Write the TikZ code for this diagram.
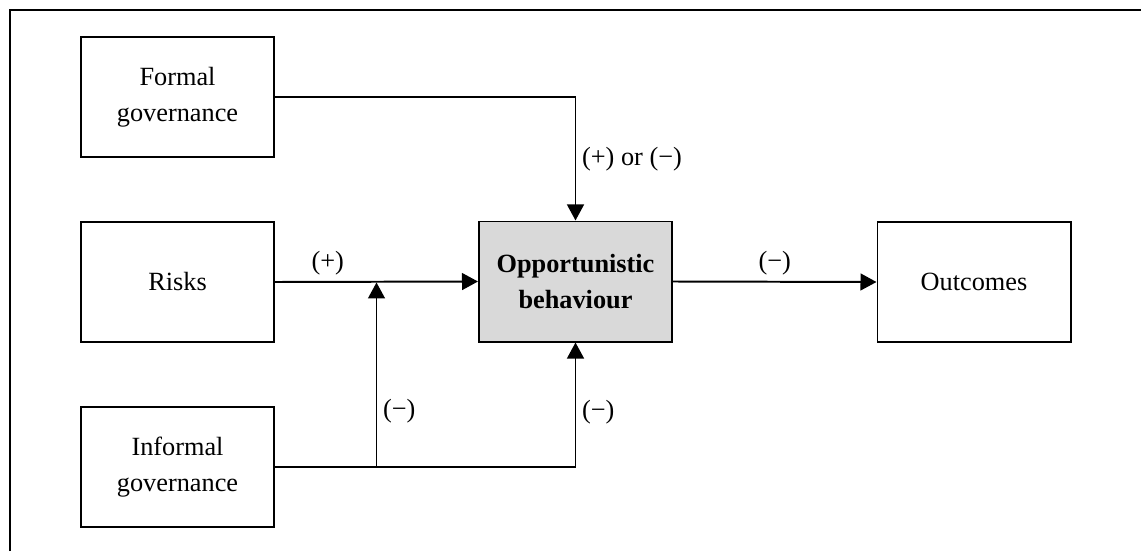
\documentclass[tikz,border=0pt]{standalone}
\usepackage{fontspec}
\setmainfont{Liberation Serif}
\usepackage{tikz}
\usetikzlibrary{
    positioning,
    arrows.meta,
    calc
}
\definecolor{fillGray}{RGB}{217, 217, 217}

\begin{document}
\begin{tikzpicture}[x=0.025cm, y=-0.025cm,
        box/.style={draw, line width=1.4pt, minimum width=4.825cm, minimum height=3cm,
            align=center, inner sep=2pt, font=\fontsize{18.7}{25.6}\selectfont},
        conn/.style={line width=1.4pt, -{Triangle[length=0.4cm, width=0.42cm]}},
        lbl/.style={font=\fontsize{18.7}{22}\selectfont, inner sep=4pt}]
        \useasboundingbox (0,0) rectangle (1141,551);
        % frame
        \draw[line width=2.1pt] (10,551) -- (10,10) -- (1141,10);

        % boxes
        \node[box] (formal) at (177.5,97) {Formal\\governance};
        \node[box] (risks) at (177.5,282) {Risks};
        \node[box] (informal) at (177.5,467) {Informal\\governance};
        \node[box, fill=fillGray, font=\fontsize{18.7}{25.6}\selectfont\bfseries] (opp) at (575.5,281.5) {Opportunistic\\behaviour};
        \node[box] (out) at (974,282) {Outcomes};

        % junctions
        \coordinate (jr) at ($(risks.east)!0.5!(opp.west)$);
        \coordinate (jn) at (jr |- informal.east);

        % connectors
        \draw[conn] (formal.east) -| (opp.north) node[lbl, pos=0.75, right]{(+) or (−)};
        \draw[conn] (risks.east) -- (opp.west) node[lbl, pos=0.26, above]{(+)};
        \draw[conn] (opp.east) -- (out.west) node[lbl, midway, above]{(−)};
        \draw[conn] (informal.east) -| (opp.south) node[lbl, pos=0.72, right]{(−)};
        \draw[conn, shorten >=0.5pt] (jn) -- (jr) node[lbl, pos=0.3, right]{(−)};
    \end{tikzpicture}
\end{document}
